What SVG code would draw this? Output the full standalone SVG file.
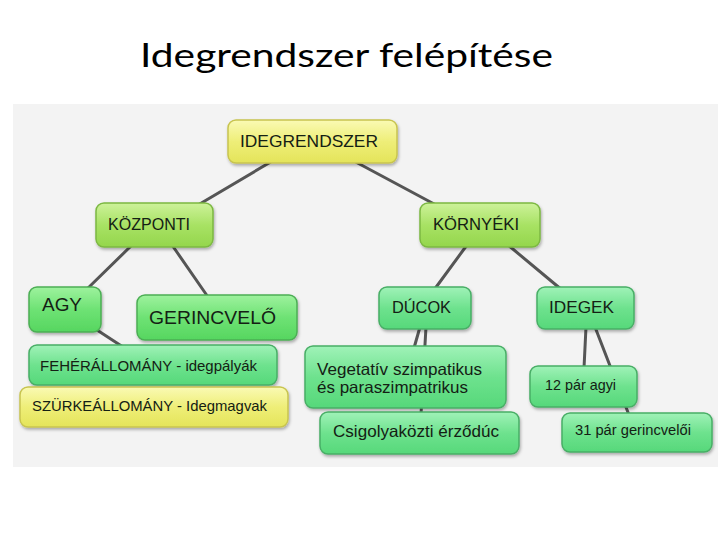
<svg xmlns="http://www.w3.org/2000/svg" width="720" height="540" viewBox="0 0 720 540">
<defs>
<linearGradient id="gY" x1="0" y1="0" x2="0" y2="1"><stop offset="0" stop-color="#fafab4"/><stop offset="0.5" stop-color="#eeee78"/><stop offset="1" stop-color="#e4e45a"/></linearGradient>
<linearGradient id="gL" x1="0" y1="0" x2="0" y2="1"><stop offset="0" stop-color="#cdf29a"/><stop offset="0.5" stop-color="#a8e264"/><stop offset="1" stop-color="#94d64c"/></linearGradient>
<linearGradient id="gG" x1="0" y1="0" x2="0" y2="1"><stop offset="0" stop-color="#9ef29e"/><stop offset="0.5" stop-color="#6ee274"/><stop offset="1" stop-color="#56d660"/></linearGradient>
<linearGradient id="gE" x1="0" y1="0" x2="0" y2="1"><stop offset="0" stop-color="#a0f2b8"/><stop offset="0.5" stop-color="#6ee28e"/><stop offset="1" stop-color="#56d87a"/></linearGradient>
<filter id="sh" x="-10%" y="-10%" width="120%" height="140%"><feDropShadow dx="1" dy="2" stdDeviation="1.5" flood-color="#000" flood-opacity="0.3"/></filter>
</defs>
<style>
.n rect{stroke-width:1.5;filter:url(#sh)}
.y rect{fill:url(#gY);stroke:#c8c450}
.l rect{fill:url(#gL);stroke:#7cb842}
.g rect{fill:url(#gG);stroke:#4cae54}
.e rect{fill:url(#gE);stroke:#48ae66}
.n text{font-family:"Liberation Sans",Arial,sans-serif;fill:#142014}
#conn line{stroke:#555;stroke-width:3;stroke-linecap:round}
</style>
<rect x="0" y="0" width="720" height="540" fill="#fff"/>
<text x="140" y="67" font-family="Lato,'Open Sans',sans-serif" font-size="32" fill="#000" textLength="413" lengthAdjust="spacingAndGlyphs">Idegrendszer felépítése</text>
<rect x="13" y="104" width="705" height="363" fill="#f3f3f3"/>
<g id="conn">
<line x1="274" y1="160" x2="198" y2="205"/>
<line x1="352" y1="160" x2="436" y2="205"/>
<line x1="132" y1="245" x2="86" y2="290"/>
<line x1="172" y1="245" x2="208" y2="297"/>
<line x1="97" y1="330" x2="123" y2="347"/>
<line x1="467" y1="245" x2="434" y2="290"/>
<line x1="508" y1="245" x2="562" y2="290"/>
<line x1="420" y1="327" x2="414" y2="348"/>
<line x1="426" y1="327" x2="421" y2="414"/>
<line x1="586" y1="327" x2="584" y2="368"/>
<line x1="595" y1="327" x2="629" y2="415"/>
</g>
<g id="n-idegrendszer" class="n y"><rect x="228" y="120" width="169" height="43" rx="8"/><text x="240" y="147" font-size="17" textLength="138" lengthAdjust="spacingAndGlyphs">IDEGRENDSZER</text></g>
<g id="n-kozponti" class="n l"><rect x="96" y="203" width="117" height="44" rx="8"/><text x="108" y="230" font-size="16" textLength="82" lengthAdjust="spacingAndGlyphs">KÖZPONTI</text></g>
<g id="n-kornyeki" class="n l"><rect x="420" y="203" width="120" height="44" rx="8"/><text x="433" y="230" font-size="16" textLength="86" lengthAdjust="spacingAndGlyphs">KÖRNYÉKI</text></g>
<g id="n-agy" class="n g"><rect x="29" y="287" width="72" height="45" rx="8"/><text x="42" y="311" font-size="18" textLength="40" lengthAdjust="spacingAndGlyphs">AGY</text></g>
<g id="n-gerincvelo" class="n g"><rect x="137" y="295" width="160" height="45" rx="8"/><text x="149" y="324" font-size="19" textLength="127" lengthAdjust="spacingAndGlyphs">GERINCVELŐ</text></g>
<g id="n-feher" class="n e"><rect x="29" y="345" width="248" height="40" rx="8"/><text x="40" y="371" font-size="15" textLength="217" lengthAdjust="spacingAndGlyphs">FEHÉRÁLLOMÁNY - idegpályák</text></g>
<g id="n-szurke" class="n y"><rect x="20" y="387" width="268" height="40" rx="8"/><text x="32" y="411" font-size="15" textLength="235" lengthAdjust="spacingAndGlyphs">SZÜRKEÁLLOMÁNY - Idegmagvak</text></g>
<g id="n-ducok" class="n e"><rect x="379" y="287" width="92" height="42" rx="8"/><text x="392" y="313" font-size="16" textLength="59" lengthAdjust="spacingAndGlyphs">DÚCOK</text></g>
<g id="n-idegek" class="n e"><rect x="537" y="287" width="97" height="42" rx="8"/><text x="549" y="313" font-size="17" textLength="65" lengthAdjust="spacingAndGlyphs">IDEGEK</text></g>
<g id="n-vegetativ" class="n e"><rect x="305" y="346" width="201" height="62" rx="8"/><text x="317" y="375" font-size="16.5" textLength="165" lengthAdjust="spacingAndGlyphs">Vegetatív szimpatikus</text><text x="317" y="393" font-size="16.5" textLength="151" lengthAdjust="spacingAndGlyphs">és paraszimpatrikus</text></g>
<g id="n-csigolya" class="n e"><rect x="320" y="412" width="199" height="42" rx="8"/><text x="333" y="437" font-size="16.5" textLength="166" lengthAdjust="spacingAndGlyphs">Csigolyaközti érződúc</text></g>
<g id="n-12par" class="n e"><rect x="530" y="366" width="107" height="41" rx="8"/><text x="545" y="390" font-size="14.5" textLength="71" lengthAdjust="spacingAndGlyphs">12 pár agyi</text></g>
<g id="n-31par" class="n e"><rect x="562" y="413" width="150" height="39" rx="8"/><text x="575" y="435" font-size="14" textLength="116" lengthAdjust="spacingAndGlyphs">31 pár gerincvelői</text></g>
</svg>
